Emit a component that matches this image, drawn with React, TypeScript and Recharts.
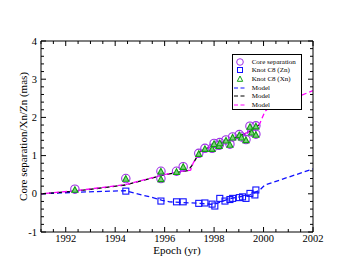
import React from 'react';
import { ComposedChart, Line, Scatter, XAxis, YAxis, Legend } from 'recharts';

// ---- Data ----
const coreEpoch = [1992.37, 1994.43, 1995.85, 1995.85, 1996.48, 1996.75, 1997.38, 1997.63, 1997.92, 1998.0, 1998.2, 1998.23, 1998.48, 1998.64, 1998.75, 1999.02, 1999.11, 1999.29, 1999.45, 1999.52, 1999.69, 1999.69];
const coreSep = [0.12, 0.40, 0.59, 0.40, 0.59, 0.71, 1.06, 1.19, 1.19, 1.32, 1.27, 1.34, 1.41, 1.30, 1.49, 1.55, 1.49, 1.42, 1.77, 1.62, 1.78, 1.56];

const xnEpoch = [1992.37, 1994.43, 1995.85, 1995.85, 1996.48, 1996.75, 1997.38, 1997.63, 1997.92, 1998.0, 1998.2, 1998.23, 1998.48, 1998.64, 1998.75, 1999.02, 1999.11, 1999.29, 1999.45, 1999.52, 1999.69, 1999.69];
const xnVal = [0.10, 0.39, 0.58, 0.38, 0.57, 0.70, 1.04, 1.17, 1.17, 1.30, 1.25, 1.32, 1.39, 1.28, 1.47, 1.53, 1.47, 1.40, 1.75, 1.60, 1.76, 1.54];

const znEpoch = [1994.43, 1995.85, 1996.48, 1996.75, 1997.38, 1997.63, 1997.92, 1998.03, 1998.23, 1998.44, 1998.64, 1998.75, 1999.02, 1999.15, 1999.29, 1999.45, 1999.65, 1999.69];
const znVal = [0.07, -0.19, -0.21, -0.21, -0.25, -0.24, -0.27, -0.32, -0.12, -0.19, -0.15, -0.12, -0.10, -0.08, -0.12, 0.01, -0.03, 0.10];

const blueEpoch = [1991, 1992.4, 1994.4, 1995.4, 1995.9, 1996.2, 1997.4, 1998.0, 1998.6, 1999.45, 1999.85, 2000.05, 2002];
const blueVal = [0, 0.04, 0.08, -0.08, -0.17, -0.21, -0.25, -0.28, -0.13, -0.03, 0.10, 0.23, 0.65];

const blackEpoch = [1991, 1992.4, 1994.4, 1995.9, 1996.5, 1996.95, 1997.1, 1997.45, 1998.0, 1998.5, 1999.0, 1999.5, 1999.85];
const blackVal = [0, 0.07, 0.23, 0.48, 0.56, 0.61, 0.74, 1.12, 1.27, 1.38, 1.50, 1.65, 1.82];

const magEpoch = [1991, 1992.4, 1994.4, 1995.9, 1996.5, 1997.05, 1997.15, 1997.45, 1998.0, 1998.5, 1999.0, 1999.5, 1999.85, 2000.05, 2000.2, 2002];
const magVal = [0, 0.08, 0.24, 0.49, 0.57, 0.62, 0.80, 1.12, 1.27, 1.38, 1.50, 1.65, 1.84, 2.15, 2.24, 2.70];

const xMajorTicks = [1992, 1994, 1996, 1998, 2000, 2002];
const yMajorTicks = [-1, 0, 1, 2, 3, 4];
const legendLabels = ['Core separation', 'Knot C8 (Zn)', 'Knot C8 (Xn)', 'Model', 'Model', 'Model'];

// ---- Derived tables ----
const zip = (xs: number[], ys: number[]) => xs.map((x, i) => ({ x, y: ys[i] }));
const coreData = zip(coreEpoch, coreSep);
const xnData = zip(xnEpoch, xnVal);
const znData = zip(znEpoch, znVal);
const blueData = zip(blueEpoch, blueVal);
const blackData = zip(blackEpoch, blackVal);
const magData = zip(magEpoch, magVal);

const xAllTicks: number[] = [];
for (let v = 1991; v <= 2002.001; v += 0.5) xAllTicks.push(Math.round(v * 10) / 10);
const yAllTicks: number[] = [];
for (let v = -1; v <= 4.001; v += 0.2) yAllTicks.push(Math.round(v * 10) / 10);

const FONT = "'Liberation Serif', 'Times New Roman', serif";
const VIOLET = '#a030e8';
const BLUE = '#1010ff';
const GREEN = '#10a010';
const MAGENTA = '#ff00ff';
const txtStyle = (size: number): React.CSSProperties => ({ fontFamily: FONT, fontSize: size, fontWeight: 400 });

const isMajor = (arr: number[], v: number) => arr.some((m) => Math.abs(m - v) < 1e-6);

const BottomTick = (p: any) => {
  const { x, y, payload } = p;
  const maj = isMajor(xMajorTicks, payload.value);
  return (
    <g>
      <line x1={x} x2={x} y1={y} y2={y - (maj ? 5 : 3)} stroke="#000" strokeWidth={1} />
      {maj && (
        <text x={x} y={y + 10} textAnchor="middle" style={txtStyle(10.5)} fill="#000">
          {payload.value}
        </text>
      )}
    </g>
  );
};
const TopTick = (p: any) => {
  const { x, y, payload } = p;
  const maj = isMajor(xMajorTicks, payload.value);
  return <line x1={x} x2={x} y1={y} y2={y + (maj ? 5 : 3)} stroke="#000" strokeWidth={1} />;
};
const LeftTick = (p: any) => {
  const { x, y, payload } = p;
  const maj = isMajor(yMajorTicks, payload.value);
  return (
    <g>
      <line x1={x} x2={x + (maj ? 5 : 3)} y1={y} y2={y} stroke="#000" strokeWidth={1} />
      {maj && (
        <text x={x - 4} y={y + 3.6} textAnchor="end" style={txtStyle(10.5)} fill="#000">
          {payload.value}
        </text>
      )}
    </g>
  );
};
const RightTick = (p: any) => {
  const { x, y, payload } = p;
  const maj = isMajor(yMajorTicks, payload.value);
  return <line x1={x} x2={x - (maj ? 5 : 3)} y1={y} y2={y} stroke="#000" strokeWidth={1} />;
};

const CircleShape = (p: any) => (
  <circle cx={p.cx} cy={p.cy} r={4.2} fill="none" stroke={VIOLET} strokeWidth={1.1} />
);
const SquareShape = (p: any) => (
  <rect x={p.cx - 3} y={p.cy - 3} width={6} height={6} fill="none" stroke={BLUE} strokeWidth={1.1} />
);
const TriShape = (p: any) => (
  <polygon
    points={`${p.cx},${p.cy - 3.3} ${p.cx - 3},${p.cy + 2.3} ${p.cx + 3},${p.cy + 2.3}`}
    fill="#7fcf7f"
    stroke={GREEN}
    strokeWidth={1.1}
  />
);

const LegendBox = () => {
  const rowTop = (i: number) => 6.7 + i * 8.65;
  const sym = (i: number) => {
    if (i === 0) return <circle cx={7} cy={4} r={3.3} fill="none" stroke={VIOLET} strokeWidth={1} />;
    if (i === 1) return <rect x={4.5} y={1.5} width={5} height={5} fill="none" stroke={BLUE} strokeWidth={1} />;
    if (i === 2) return <polygon points="7,1 4.3,6.3 9.7,6.3" fill="none" stroke={GREEN} strokeWidth={1} />;
    const c = i === 3 ? BLUE : i === 4 ? '#000' : MAGENTA;
    return <line x1={1} x2={13} y1={4} y2={4} stroke={c} strokeWidth={1.2} strokeDasharray="4 2.5" />;
  };
  return (
    <div
      style={{
        position: 'relative',
        width: 70,
        height: 56,
        border: '1px solid #000',
        boxSizing: 'border-box',
        background: '#fff',
      }}
    >
      {legendLabels.map((lab, i) => (
        <div key={i} style={{ position: 'absolute', left: 0, top: rowTop(i) - 4, height: 8, width: 70 }}>
          <svg width={14} height={8} style={{ position: 'absolute', left: 0, top: 0 }}>
            {sym(i)}
          </svg>
          <span
            style={{
              position: 'absolute',
              left: 18.7,
              top: 0,
              fontFamily: FONT,
              fontSize: 7,
              lineHeight: '8px',
              whiteSpace: 'nowrap',
              color: '#000',
            }}
          >
            {lab}
          </span>
        </div>
      ))}
    </div>
  );
};

export default function App() {
  return (
    <ComposedChart
      width={337}
      height={257}
      margin={{ top: 3, right: 0, bottom: 0, left: 0 }}
      style={{ fontFamily: FONT }}
    >
      <XAxis
        xAxisId={0}
        type="number"
        dataKey="x"
        domain={[1991, 2002]}
        allowDataOverflow
        ticks={xAllTicks}
        interval={0}
        tick={BottomTick}
        tickLine={false}
        tickSize={0}
        tickMargin={0}
        height={33}
        axisLine={{ stroke: '#000', strokeWidth: 1 }}
        label={() => (
          <text x={169} y={245.5} textAnchor="middle" style={txtStyle(11)} fill="#000">
            Epoch (yr)
          </text>
        )}
      />
      <XAxis
        xAxisId="top"
        orientation="top"
        type="number"
        dataKey="x"
        domain={[1991, 2002]}
        allowDataOverflow
        ticks={xAllTicks}
        interval={0}
        tick={TopTick}
        tickLine={false}
        tickSize={0}
        tickMargin={0}
        height={30}
        axisLine={{ stroke: '#000', strokeWidth: 1 }}
      />
      <YAxis
        yAxisId={0}
        type="number"
        dataKey="y"
        domain={[-1, 4]}
        allowDataOverflow
        ticks={yAllTicks}
        interval={0}
        tick={LeftTick}
        tickLine={false}
        tickSize={0}
        tickMargin={0}
        width={33}
        axisLine={{ stroke: '#000', strokeWidth: 1 }}
        label={() => (
          <text
            x={15}
            y={128.5}
            transform="rotate(-90 15 128.5)"
            textAnchor="middle"
            dominantBaseline="central"
            style={txtStyle(11)}
            fill="#000"
          >
            Core separation/Xn/Zn (mas)
          </text>
        )}
      />
      <YAxis
        yAxisId="right"
        orientation="right"
        type="number"
        dataKey="y"
        domain={[-1, 4]}
        allowDataOverflow
        ticks={yAllTicks}
        interval={0}
        tick={RightTick}
        tickLine={false}
        tickSize={0}
        tickMargin={0}
        width={32}
        axisLine={{ stroke: '#000', strokeWidth: 1 }}
      />
      <Line
        data={blueData}
        dataKey="y"
        type="linear"
        stroke={BLUE}
        strokeWidth={1.3}
        strokeDasharray="5 3"
        dot={false}
        activeDot={false}
        isAnimationActive={false}
      />
      <Line
        data={blackData}
        dataKey="y"
        type="linear"
        stroke="#000"
        strokeWidth={1.3}
        strokeDasharray="5 3"
        dot={false}
        activeDot={false}
        isAnimationActive={false}
      />
      <Line
        data={magData}
        dataKey="y"
        type="linear"
        stroke={MAGENTA}
        strokeWidth={1.3}
        strokeDasharray="5 3"
        strokeDashoffset={3}
        dot={false}
        activeDot={false}
        isAnimationActive={false}
      />
      <Scatter data={coreData} dataKey="y" shape={CircleShape} isAnimationActive={false} />
      <Scatter data={znData} dataKey="y" shape={SquareShape} isAnimationActive={false} />
      <Scatter data={xnData} dataKey="y" shape={TriShape} isAnimationActive={false} />
      <Legend
        layout="horizontal"
        verticalAlign="middle"
        align="center"
        content={() => <LegendBox />}
        wrapperStyle={{ top: 46, left: 224, width: 70, height: 56, bottom: 'auto', right: 'auto' }}
      />
    </ComposedChart>
  );
}
